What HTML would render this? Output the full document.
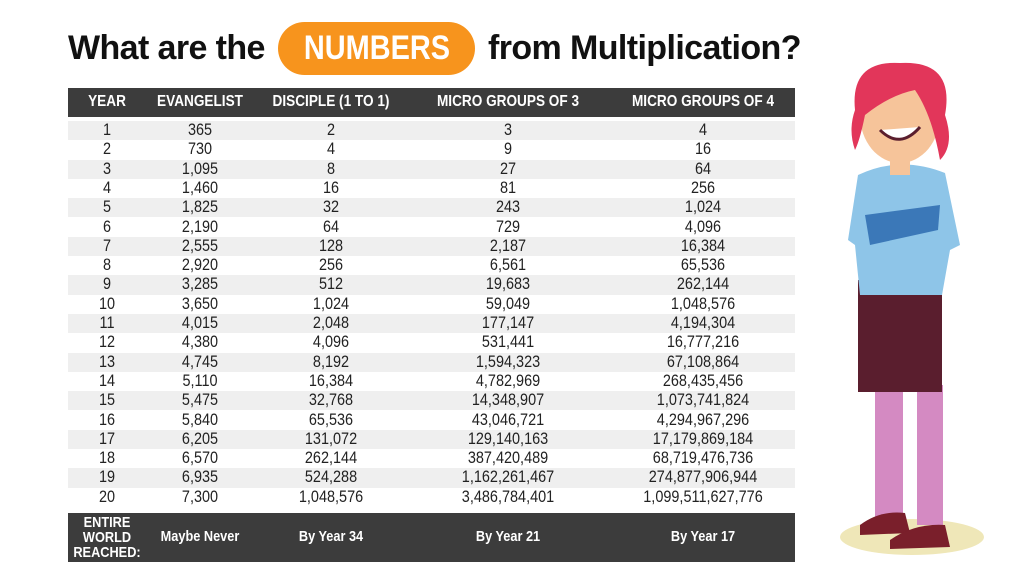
<!DOCTYPE html>
<html><head><meta charset="utf-8"><style>
body{margin:0;width:1024px;height:576px;background:#fff;overflow:hidden;position:relative;font-family:"Liberation Sans",sans-serif}
.title{position:absolute;top:22px;left:68px;height:54px;font-weight:bold;font-size:34px;color:#111;white-space:nowrap}
.t{position:absolute;top:7px;letter-spacing:-0.6px}
.pill{position:absolute;left:278px;top:22px;width:197px;height:53px;border-radius:27px;background:#f7941d;color:#fff;font-weight:bold;font-size:34px;text-align:center;line-height:53px}
.pill span{display:inline-block;transform:scaleX(0.85)}
.hdr{position:absolute;left:68px;top:88px;width:727px;height:29px;background:#3c3c3c;color:#fff;font-weight:bold;font-size:16px}
.hdr div,.row div,.ft div{position:absolute;transform:translateX(-50%) scaleX(0.85);white-space:nowrap}
.hdr div{top:5px}
.row{position:absolute;left:68px;width:727px;height:19.3px;font-size:17px;color:#222}
.row div{top:-1px}
.g{background:#efefef}
.ft{position:absolute;left:68px;top:513px;width:727px;height:49px;background:#3c3c3c;color:#fff;font-weight:bold;font-size:15px}
.ft div{top:15px}
</style></head><body>
<div class="title"><span class="t" style="left:0">What are the</span><span class="t" style="left:420px">from Multiplication?</span></div>
<div class="pill"><span>NUMBERS</span></div>
<div class="hdr"><div style="left:39px">YEAR</div><div style="left:132px">EVANGELIST</div><div style="left:263px">DISCIPLE (1 TO 1)</div><div style="left:440px">MICRO GROUPS OF 3</div><div style="left:635px">MICRO GROUPS OF 4</div></div>
<div id="rows"></div>
<div class="ft"><div style="left:39px;top:2px;text-align:center;line-height:15px">ENTIRE<br>WORLD<br>REACHED:</div><div style="left:132px">Maybe Never</div><div style="left:263px">By Year 34</div><div style="left:440px">By Year 21</div><div style="left:635px">By Year 17</div></div>
<script>
var d=[["365","2","3","4"],["730","4","9","16"],["1,095","8","27","64"],["1,460","16","81","256"],["1,825","32","243","1,024"],["2,190","64","729","4,096"],["2,555","128","2,187","16,384"],["2,920","256","6,561","65,536"],["3,285","512","19,683","262,144"],["3,650","1,024","59,049","1,048,576"],["4,015","2,048","177,147","4,194,304"],["4,380","4,096","531,441","16,777,216"],["4,745","8,192","1,594,323","67,108,864"],["5,110","16,384","4,782,969","268,435,456"],["5,475","32,768","14,348,907","1,073,741,824"],["5,840","65,536","43,046,721","4,294,967,296"],["6,205","131,072","129,140,163","17,179,869,184"],["6,570","262,144","387,420,489","68,719,476,736"],["6,935","524,288","1,162,261,467","274,877,906,944"],["7,300","1,048,576","3,486,784,401","1,099,511,627,776"]];
var h="",xs=[39,132,263,440,635];
d.forEach(function(r,i){var c=[String(i+1)].concat(r);h+='<div class="row'+(i%2==0?' g':'')+'" style="top:'+(121+i*19.3)+'px">';c.forEach(function(v,j){h+='<div style="left:'+xs[j]+'px">'+v+'</div>'});h+='</div>'});
document.getElementById("rows").innerHTML=h;
</script>
<svg style="position:absolute;left:820px;top:55px" width="200" height="510">
<ellipse cx="92" cy="482" rx="72" ry="18" fill="#efe7b8"/>
<rect x="55" y="330" width="28" height="135" fill="#d48ac2"/>
<rect x="97" y="330" width="26" height="140" fill="#d48ac2"/>
<path d="M40 470 Q60 455 85 458 L90 478 L40 480Z" fill="#7a1f2b"/>
<path d="M70 485 Q95 468 125 470 L130 492 L70 494Z" fill="#7a1f2b"/>
<path d="M38 225 L122 225 L122 337 L38 337Z" fill="#5a1e2e"/>
<path d="M38 120 Q80 100 125 118 L140 190 L130 195 L122 240 L40 240 L35 190 L28 185Z" fill="#8ec5e8"/>
<path d="M45 160 L120 150 L118 175 L50 190Z" fill="#3b78b8"/>
<rect x="70" y="95" width="20" height="25" fill="#f6c49a"/>
<ellipse cx="80" cy="60" rx="40" ry="48" fill="#f6c49a"/>
<path d="M35 55 Q30 5 80 8 Q135 5 125 60 Q135 90 120 105 Q112 60 95 35 Q70 40 45 60 Q40 85 35 95 Q28 75 35 55Z" fill="#e2365a"/>
<path d="M60 75 Q80 95 100 72" stroke="#5a1e2e" stroke-width="3" fill="#fff"/>
</svg>
</body></html>
